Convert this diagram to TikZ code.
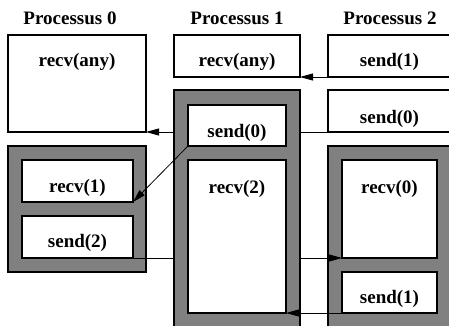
\documentclass[tikz,border=0pt]{standalone}
\usepackage{fontspec}
\usepackage{xcolor}
\usepackage{tikz}
\usetikzlibrary{arrows.meta}
\setmainfont{Liberation Serif}
\definecolor{blockGray}{RGB}{128, 128, 128}

\begin{document}
\begin{tikzpicture}[x=1pt, y=-1pt,
		box/.style={draw, fill=white, line width=1.2pt, inner sep=0pt, outer sep=0pt, anchor=north west},
		blocked/.style={box, fill=blockGray},
		tag/.style={font=\fontsize{19}{22}\selectfont\bfseries, anchor=base},
		msg/.style={line width=0.8pt, -{Triangle[length=13pt, width=7pt]}}]
	\useasboundingbox (0,0) rectangle (449,326);
	\fill[white] (0,0) rectangle (449,326);
	\clip (0,0) rectangle (449,326);

	% Column titles
	\node[tag] (t0) at (70,25) {Processus 0};
	\node[tag] (t1) at (237,25) {Processus 1};
	\node[tag] (t2) at (390,25) {Processus 2};

	% Process 0
	\node[box, minimum width=138pt, minimum height=97pt] (p0any) at (8,35) {};
	\node[blocked, minimum width=138pt, minimum height=126pt] (p0blk) at (8,146) {};
	\node[box, minimum width=111pt, minimum height=42pt] (p0recv1) at (22,160) {};
	\node[box, minimum width=111pt, minimum height=42pt] (p0send2) at (22,216) {};

	% Process 2
	\node[box, minimum width=123pt, minimum height=42pt] (p2send1) at (328,35) {};
	\node[box, minimum width=123pt, minimum height=42pt] (p2send0) at (328,90) {};
	\node[blocked, minimum width=123pt, minimum height=194pt] (p2blk) at (328,146) {};
	\node[box, minimum width=95pt, minimum height=98pt] (p2recv0) at (342,160) {};
	\node[box, minimum width=95pt, minimum height=41pt] (p2send1b) at (342,272) {};

	% Messages passing behind process 1
	\draw[msg] (p2send0.south west) -- (p0any.south east);
	\draw[msg] (p0send2.south east) -- (p2recv0.south west);

	% Process 1
	\node[box, minimum width=126pt, minimum height=42pt] (p1any) at (174,35) {};
	\node[blocked, minimum width=126pt, minimum height=250pt] (p1blk) at (174,90) {};
	\node[box, minimum width=98pt, minimum height=41pt] (p1send0) at (188,105) {};
	\node[box, minimum width=98pt, minimum height=153pt] (p1recv2) at (188,160) {};

	% Box labels
	\node[tag] at ([yshift=-32pt]p0any.north) {recv(any)};
	\node[tag] at ([yshift=-32pt]p0recv1.north) {recv(1)};
	\node[tag] at ([yshift=-31pt]p0send2.north) {send(2)};
	\node[tag] at ([yshift=-32pt]p1any.north) {recv(any)};
	\node[tag] at ([yshift=-32pt]p1send0.north) {send(0)};
	\node[tag] at ([yshift=-33pt]p1recv2.north) {recv(2)};
	\node[tag] at ([yshift=-32pt]p2send1.north) {send(1)};
	\node[tag] at ([yshift=-33pt]p2send0.north) {send(0)};
	\node[tag] at ([yshift=-33pt]p2recv0.north) {recv(0)};
	\node[tag] at ([yshift=-31pt]p2send1b.north) {send(1)};

	% Remaining messages
	\draw[msg] (p2send1.south west) -- (p1any.south east);
	\draw[msg] (p1send0.south west) -- (p0recv1.south east);
	\draw[msg] (p2send1b.south west) -- (p1recv2.south east);
\end{tikzpicture}
\end{document}
